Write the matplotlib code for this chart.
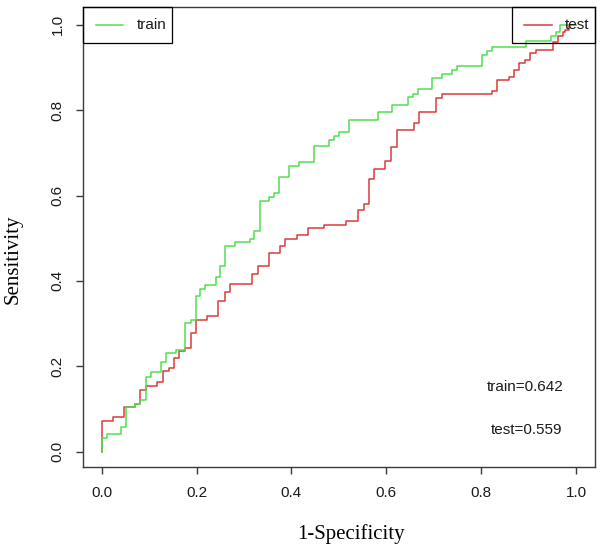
import matplotlib
matplotlib.use("Agg")
import matplotlib.pyplot as plt
from matplotlib.patches import Rectangle

# ROC corner points (1-specificity, sensitivity)
train_fpr = [0, 0, 0.011, 0.041, 0.052, 0.071, 0.081, 0.094, 0.105, 0.126, 0.135, 0.157,
             0.176, 0.189, 0.198, 0.208, 0.217, 0.240, 0.250, 0.260, 0.280, 0.312, 0.322,
             0.333, 0.352, 0.363, 0.373, 0.394, 0.415, 0.448, 0.479, 0.490, 0.500, 0.521,
             0.582, 0.613, 0.645, 0.656, 0.666, 0.697, 0.717, 0.738, 0.748, 0.801, 0.812,
             0.822, 0.894, 0.947, 0.957, 0.966, 1.0]
train_tpr = [0, 0.032, 0.041, 0.057, 0.105, 0.112, 0.122, 0.175, 0.186, 0.211, 0.230, 0.237,
             0.301, 0.309, 0.364, 0.381, 0.391, 0.409, 0.436, 0.482, 0.490, 0.499, 0.518,
             0.588, 0.596, 0.607, 0.643, 0.670, 0.678, 0.715, 0.731, 0.740, 0.748, 0.776,
             0.795, 0.813, 0.830, 0.838, 0.849, 0.875, 0.885, 0.895, 0.903, 0.930, 0.939,
             0.948, 0.963, 0.973, 0.982, 1.0, 1.0]

test_fpr = [0, 0, 0.024, 0.048, 0.071, 0.081, 0.094, 0.116, 0.129, 0.141, 0.152, 0.164,
            0.176, 0.189, 0.198, 0.222, 0.246, 0.259, 0.270, 0.317, 0.329, 0.352, 0.376,
            0.387, 0.411, 0.435, 0.469, 0.516, 0.540, 0.552, 0.563, 0.575, 0.598, 0.610,
            0.622, 0.658, 0.669, 0.704, 0.717, 0.822, 0.833, 0.858, 0.869, 0.880, 0.893,
            0.903, 0.915, 0.952, 0.963, 0.973, 0.977, 0.985, 1.0]
test_tpr = [0, 0.071, 0.080, 0.105, 0.112, 0.145, 0.153, 0.162, 0.188, 0.196, 0.219, 0.235,
            0.243, 0.278, 0.309, 0.317, 0.352, 0.375, 0.393, 0.416, 0.434, 0.466, 0.482,
            0.499, 0.507, 0.524, 0.532, 0.541, 0.565, 0.581, 0.639, 0.663, 0.680, 0.714,
            0.754, 0.771, 0.795, 0.828, 0.837, 0.846, 0.870, 0.878, 0.893, 0.910, 0.918,
            0.934, 0.941, 0.959, 0.974, 0.982, 0.988, 1.0, 1.0]

series_names = ["train", "test"]
auc_values = [0.642, 0.559]
ticks = [0.0, 0.2, 0.4, 0.6, 0.8, 1.0]
tick_labels = ["0.0", "0.2", "0.4", "0.6", "0.8", "1.0"]

GREEN = "#4FE04F"
RED = "#DC3A3A"
AX_COL = "#3a3a3a"
SANS = ["Liberation Sans", "DejaVu Sans"]
SERIF = ["Liberation Serif", "DejaVu Serif"]
FS = 11

fig = plt.figure(figsize=(6.02, 5.51), dpi=100)
ax = fig.add_axes([0.1374, 0.1525, 0.8510, 0.8343])

ax.plot(test_fpr, test_tpr, drawstyle="steps-post", color=RED, lw=1.1, zorder=3)
ax.plot(train_fpr, train_tpr, drawstyle="steps-post", color=GREEN, lw=1.1, zorder=3)

ax.set_xlim(-0.04, 1.04)
ax.set_ylim(-0.036, 1.041)
ax.set_xticks(ticks)
ax.set_xticklabels(tick_labels, family=SANS, fontsize=FS)
ax.set_yticks(ticks)
ax.set_yticklabels(tick_labels, family=SANS, fontsize=FS, rotation=90, va="center")
ax.tick_params(direction="out", length=5, width=1, color=AX_COL, labelcolor="#1a1a1a")
ax.tick_params(axis="x", pad=8.5)
ax.tick_params(axis="y", pad=8)
for s in ax.spines.values():
    s.set_color(AX_COL)
    s.set_linewidth(1.0)

# legends (R style, unfilled boxes)
ta = ax.transAxes
ax.add_patch(Rectangle((0, 0.9217), 0.1737, 0.0783, transform=ta, fill=False,
                       edgecolor="black", lw=0.9, clip_on=False, zorder=4))
ax.plot([0.026, 0.079], [0.9615, 0.9615], transform=ta, color=GREEN, lw=1.1, zorder=4)
ax.text(0.105, 0.9615, series_names[0], transform=ta, family=SANS, fontsize=FS,
        va="center", ha="left", color="#1a1a1a")

ax.add_patch(Rectangle((0.8374, 0.9217), 0.1626, 0.0783, transform=ta, fill=False,
                       edgecolor="black", lw=0.9, clip_on=False, zorder=4))
ax.plot([0.8614, 0.9155], [0.9615, 0.9615], transform=ta, color=RED, lw=1.1, zorder=4)
ax.text(0.9414, 0.9615, series_names[1], transform=ta, family=SANS, fontsize=FS,
        va="center", ha="left", color="#1a1a1a", zorder=5)

# AUC annotations
ax.text(0.893, 0.152, f"{series_names[0]}={auc_values[0]:.3f}", family=SANS, fontsize=FS,
        ha="center", va="center", color="#1a1a1a")
ax.text(0.895, 0.05, f"{series_names[1]}={auc_values[1]:.3f}", family=SANS, fontsize=FS,
        ha="center", va="center", color="#1a1a1a")

fig.text(0.583, 0.030, "1-Specificity", family=SERIF, fontsize=15, ha="center", va="center")
fig.text(0.0216, 0.530, "Sensitivity", family=SERIF, fontsize=15, ha="center", va="center",
         rotation=90)

fig.savefig("out.png", dpi=100)
